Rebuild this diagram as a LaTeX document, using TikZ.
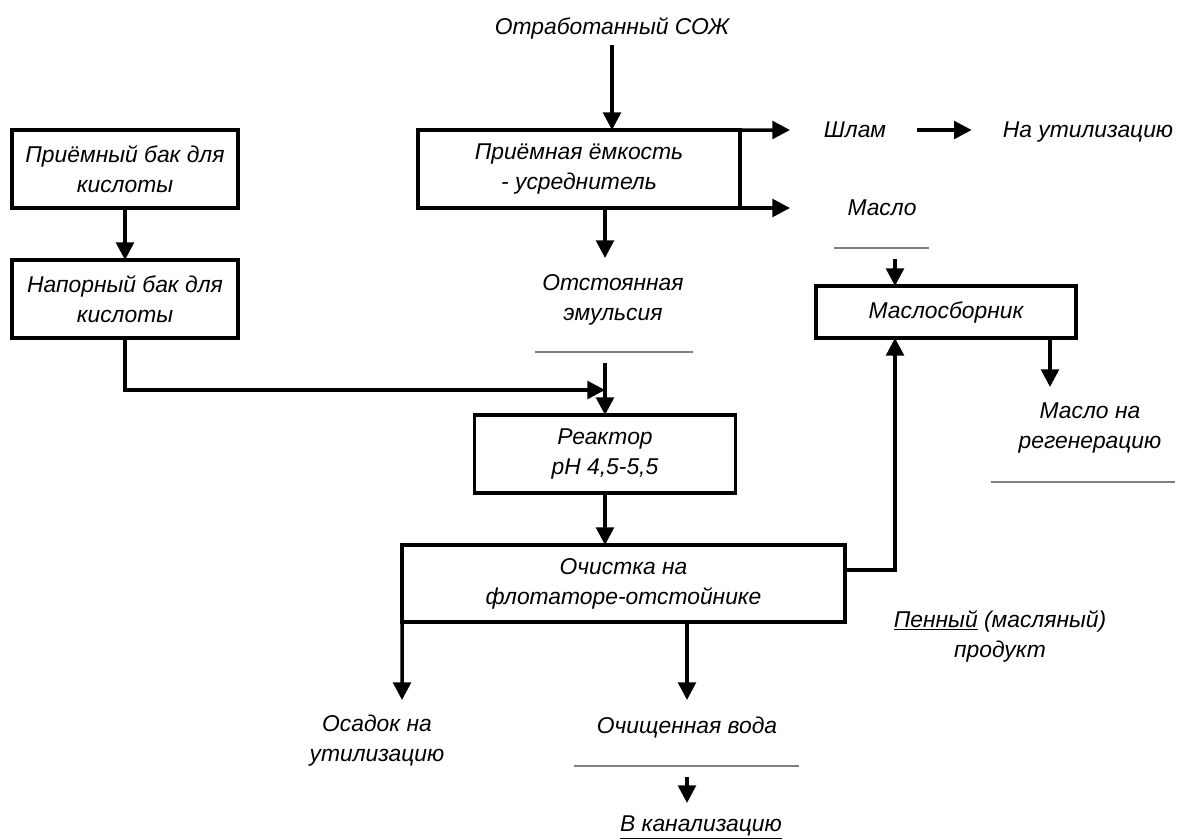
\documentclass[tikz,border=0pt]{standalone}
\usepackage{fontspec}
\setmainfont{Liberation Sans}
\usepackage{tikz}
\usetikzlibrary{arrows.meta}

\tikzset{
  unitbox/.style={draw, line width=2pt, align=center, inner sep=0pt, outer sep=0pt,
    font=\itshape\fontsize{13}{17}\selectfont},
  txt/.style={align=center, font=\itshape\fontsize{13}{17}\selectfont},
  arr/.style={-{Triangle[length=10pt,width=10pt]}, line width=2pt},
  sepline/.style={gray, line width=0.7pt}
}

\begin{document}
\begin{tikzpicture}[x=0.02cm, y=-0.02cm]
      \useasboundingbox (0,0) rectangle (1187,839);
      % boxes
      \node [unitbox, minimum width=4.52cm, minimum height=1.56cm] (acid1) at (125,169) {Приёмный бак для\\кислоты};
      \node [unitbox, minimum width=4.52cm, minimum height=1.56cm] (acid2) at (125,299) {Напорный бак для\\кислоты};
      \node [unitbox, minimum width=6.44cm, minimum height=1.56cm] (tank) at (579,169) {Приёмная ёмкость\\- усреднитель};
      \node [unitbox, minimum width=5.22cm, minimum height=1.56cm] (reactor) at (605,454) {Реактор\\рН 4,5-5,5};
      \node [unitbox, minimum width=8.86cm, minimum height=1.54cm] (flot) at (623.5,583.5) {Очистка на\\флотаторе-отстойнике};
      \node [unitbox, minimum width=5.2cm, minimum height=1.04cm] (oilbox) at (946,312) {Маслосборник};
      % texts
      \node [txt] (soj) at (612,28) {Отработанный СОЖ};
      \node [txt, anchor=base] (slam) at (855,137) {Шлам};
      \node [txt, anchor=base] (util) at (1088,137) {На утилизацию};
      \node [txt] (oil) at (882,208) {Масло};
      \node [txt] (emul) at (613,300) {Отстоянная\\эмульсия};
      \node [txt] (oilreg) at (1090,428) {Масло на\\регенерацию};
      \node [txt] (foam) at (1000,636) {\underline{Пенный} (масляный)\\продукт};
      \node [txt] (sludge) at (377,741) {Осадок на\\утилизацию};
      \node [txt] (water) at (687,727) {Очищенная вода};
      \node [txt] (sewer) at (701,828) {\underline{В канализацию}};
      % free ends
      \coordinate (slamtip) at (790,130);
      \coordinate (oiltip) at (790,208);
      \coordinate (emtip) at (605,258);
      \coordinate (emtop) at (605,363);
      \coordinate (acidtip) at (605,390);
      \coordinate (oiltop) at (895,259);
      \coordinate (regtip) at (1050,387);
      \coordinate (sludgetip) at (402,700);
      \coordinate (watertip) at (687,700);
      \coordinate (sewtop) at (687,777);
      \coordinate (sewtip) at (687,803);
      % connectors
      \draw [arr] (soj.south) -- (soj.south |- tank.north);
      \draw [arr] (tank.north east) -- (slamtip);
      \draw [arr] (tank.south east) -- (oiltip);
      \draw [arr, shorten <=0.5cm, shorten >=0.5cm] (slam.east |- slamtip) -- (util.west |- slamtip);
      \draw [arr] (emtip |- tank.south) -- (emtip);
      \draw [arr] (acid1) -- (acid2);
      \draw [arr] (acid2.south) |- (acidtip);
      \draw [arr] (emtop) -- (reactor.north);
      \draw [arr] (reactor.south) -- (reactor.south |- flot.north);
      \draw [arr] (oiltop) -- (oiltop |- oilbox.north);
      \draw [arr] (regtip |- oilbox.south) -- (regtip);
      \draw [arr] ([yshift=0.27cm]flot.east) -| (oiltop |- oilbox.south);
      \draw [arr] (flot.south west) -- (sludgetip);
      \draw [arr] (watertip |- flot.south) -- (watertip);
      \draw [arr] (sewtop) -- (sewtip);
      % separator lines
      \draw [sepline] (834,248) -- (929,248);
      \draw [sepline] (535,352) -- (693,352);
      \draw [sepline] (991,482) -- (1175,482);
      \draw [sepline] (574,766) -- (799,766);
    \end{tikzpicture}
\end{document}
